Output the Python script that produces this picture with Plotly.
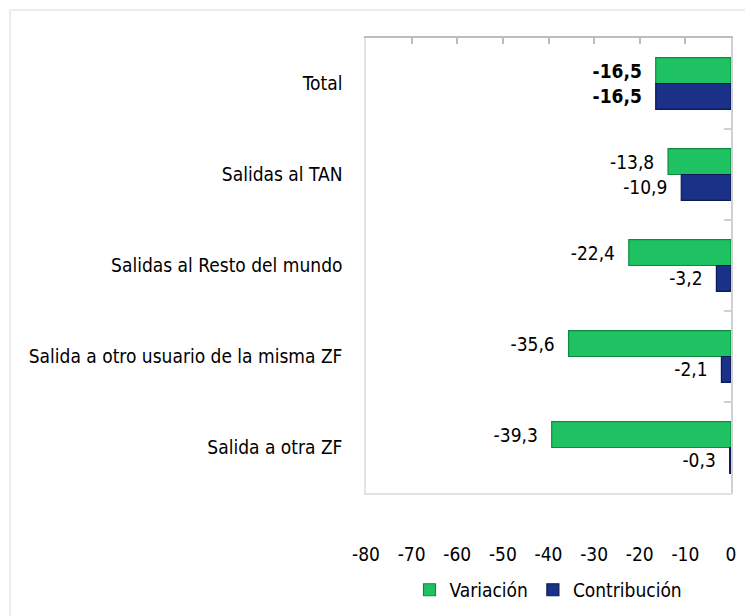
import plotly.graph_objects as go

categories = ["Total", "Salidas al TAN", "Salidas al Resto del mundo",
              "Salida a otro usuario de la misma ZF", "Salida a otra ZF"]
variacion = [-16.5, -13.8, -22.4, -35.6, -39.3]
contribucion = [-16.5, -10.9, -3.2, -2.1, -0.3]
x_ticks = [-80, -70, -60, -50, -40, -30, -20, -10, 0]
x_tick_text = [str(v) for v in x_ticks]

FONT = "DejaVu Sans Condensed, Liberation Sans Narrow, sans-serif"
FS = 19
PAD = "\u00a0\u00a0"


def fmt(vals):
    out = []
    for i, v in enumerate(vals):
        s = f"{v:.1f}".replace(".", ",")
        out.append(f"<b>{s}</b>{PAD}" if i == 0 else s + PAD)
    return out


fig = go.Figure()
fig.add_trace(go.Bar(
    name="Variación", y=categories, x=variacion, orientation="h",
    marker=dict(color="#1fc262", line=dict(color="#0e8a40", width=1.2)),
    text=fmt(variacion), textposition="outside", cliponaxis=False,
    textfont=dict(size=FS, color="black", family=FONT),
))
fig.add_trace(go.Bar(
    name="Contribución", y=categories, x=contribucion, orientation="h",
    marker=dict(color="#1b3087", line=dict(color="#0b1a55", width=1.2)),
    text=fmt(contribucion), textposition="outside", cliponaxis=False,
    textfont=dict(size=FS, color="black", family=FONT),
))
# helper (invisible) trace for the top/right axes
fig.add_trace(go.Scatter(x=[None], y=[None], xaxis="x2", yaxis="y2",
                         showlegend=False, hoverinfo="skip"))

fig.update_layout(
    width=745, height=620,
    margin=dict(l=358, r=22, t=30, b=135),
    paper_bgcolor="white", plot_bgcolor="white",
    barmode="group", bargap=0.43, bargroupgap=0,
    separators=",.",
    font=dict(family=FONT, size=FS, color="black"),
    showlegend=True,
    legend=dict(orientation="h", x=0.5, xanchor="center", y=-0.213,
                yanchor="middle", font=dict(size=FS), traceorder="normal",
                itemwidth=30),
    xaxis=dict(range=[-80, 0], tickvals=x_ticks, ticktext=x_tick_text,
               showgrid=False, zeroline=False, showline=True,
               linecolor="#e3e3e3", linewidth=1.5, ticks="",
               ticklabelstandoff=43, tickfont=dict(size=FS), fixedrange=True),
    xaxis2=dict(range=[-80, 0], tickvals=x_ticks, overlaying="x", side="top",
                showgrid=False, zeroline=False, showline=True,
                linecolor="#bdbdbd", linewidth=1.5, ticks="inside", ticklen=6,
                tickcolor="#bdbdbd", tickwidth=1.5, showticklabels=False),
    yaxis=dict(type="category", categoryorder="array", categoryarray=categories,
               range=[4.5, -0.5], showgrid=False, zeroline=False,
               showline=True, linecolor="#e3e3e3", linewidth=1.5, ticks="",
               ticklabelstandoff=18, tickfont=dict(size=FS)),
    yaxis2=dict(range=[5, 0], dtick=1, overlaying="y", side="right",
                showgrid=False, zeroline=False, showline=True,
                linecolor="#d0d0d0", linewidth=1.5, ticks="inside", ticklen=7,
                tickcolor="#d0d0d0", tickwidth=1.5, showticklabels=False),
    shapes=[dict(type="rect", xref="paper", yref="paper",
                 x0=-0.975, x1=1.2, y0=-0.4, y1=1.0615,
                 line=dict(color="#ececec", width=2), layer="below")],
)

fig.write_html("out.html")
